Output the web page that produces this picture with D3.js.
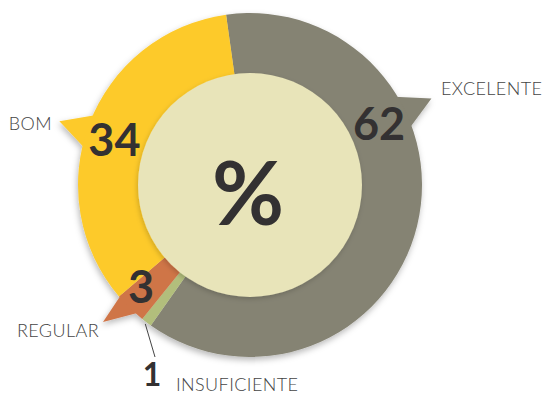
<!DOCTYPE html>
<html><head><meta charset="utf-8">
<script src="https://cdn.jsdelivr.net/npm/d3@7"></script>
<style>html,body{margin:0;padding:0;background:#fff;} svg{display:block;}</style>
</head><body>
<svg id="chart" width="545" height="394"></svg>
<script>
// Rating shares, in percent, clockwise from the top
const categories = ["EXCELENTE", "INSUFICIENTE", "REGULAR", "BOM"];
const values = [62, 1, 3, 34];
const colors = ["#858373", "#B2BE7B", "#CF7447", "#FDCA2B"];
const centerLabel = "%";

// Callout layout: tail angle in degrees clockwise from 12 o'clock (null = leader line)
const calloutAngle = [64.5, null, 227, 288.5];
const valueRadius = [143, null, 149, 143];
const namePos = [
  {x: 441, y: 95, anchor: "start"},
  {x: 176, y: 391, anchor: "start"},
  {x: 99, y: 337, anchor: "end"},
  {x: 52, y: 130, anchor: "end"}
];
const leaderEnd = [155, 357];

const cx = 250, cy = 185, rOuter = 172, rInner = 112, rTip = 201;
const rad = d => d * Math.PI / 180;
const deg = r => r * 180 / Math.PI;
const polar = (a, r) => [cx + r * Math.sin(rad(a)), cy - r * Math.cos(rad(a))];

const svg = d3.select("#chart");
const defs = svg.append("defs");
const sh = defs.append("filter").attr("id", "shadow")
  .attr("x", "-20%").attr("y", "-20%").attr("width", "140%").attr("height", "140%");
sh.append("feDropShadow").attr("dx", -1).attr("dy", 3).attr("stdDeviation", 3)
  .attr("flood-color", "#000").attr("flood-opacity", 0.28);
const sh2 = defs.append("filter").attr("id", "innerShadow")
  .attr("x", "-20%").attr("y", "-20%").attr("width", "140%").attr("height", "140%");
sh2.append("feDropShadow").attr("dx", -1).attr("dy", 2).attr("stdDeviation", 2.5)
  .attr("flood-color", "#000").attr("flood-opacity", 0.18);

const pie = d3.pie().sort(null).startAngle(rad(-8)).endAngle(rad(352));
const arcs = pie(values);
const arc = d3.arc().innerRadius(rInner - 12).outerRadius(rOuter);

const ring = svg.append("g").attr("filter", "url(#shadow)");

// Pointer tails that lead from each slice towards its name
arcs.forEach((a, i) => {
  const c = calloutAngle[i];
  if (c == null) return;
  const s = deg(a.startAngle), e = deg(a.endAngle);
  const a1 = Math.max(c - 6, s), a2 = Math.min(c + 6, e);
  const pts = [polar(a1, rOuter - 3), polar(c, rTip), polar(a2, rOuter - 3)];
  ring.append("path").attr("d", d3.line()(pts) + "Z").attr("fill", colors[i]);
});

ring.append("g").attr("transform", `translate(${cx},${cy})`)
  .selectAll("path").data(arcs).join("path")
  .attr("d", arc).attr("fill", (d, i) => colors[i]);

// Centre disc
svg.append("circle").attr("cx", cx).attr("cy", cy).attr("r", rInner)
  .attr("fill", "#E8E4B9").attr("filter", "url(#innerShadow)");

svg.append("text").attr("x", cx - 2).attr("y", cy + 8)
  .attr("text-anchor", "middle").attr("dy", "0.36em")
  .style("font-family", "Lato, 'Open Sans', sans-serif").style("font-weight", 700)
  .style("font-size", "88px").attr("fill", "#333132").text(centerLabel);

// Values and names
arcs.forEach((a, i) => {
  const c = calloutAngle[i];
  let vx, vy, size = 45;
  if (c != null) {
    [vx, vy] = polar(c, valueRadius[i]);
  } else {
    const mid = deg((a.startAngle + a.endAngle) / 2);
    const p0 = polar(mid, rOuter + 2);
    svg.append("line").attr("x1", p0[0]).attr("y1", p0[1])
      .attr("x2", leaderEnd[0]).attr("y2", leaderEnd[1])
      .attr("stroke", "#444").attr("stroke-width", 1);
    size = 32;
    vx = leaderEnd[0] - 3; vy = leaderEnd[1] + 17.5;
  }
  svg.append("text").attr("x", vx).attr("y", vy)
    .attr("text-anchor", "middle").attr("dy", "0.36em")
    .style("font-family", "Lato, 'Open Sans', sans-serif").style("font-weight", 700)
    .style("font-size", size + "px").attr("fill", "#333132").text(values[i]);

  svg.append("text").attr("x", namePos[i].x).attr("y", namePos[i].y)
    .attr("text-anchor", namePos[i].anchor)
    .style("font-family", "Lato, 'Open Sans', sans-serif").style("font-weight", 300)
    .style("font-size", "18px").style("letter-spacing", "0.4px")
    .attr("fill", "#444").text(categories[i]);
});
</script>
</body></html>
